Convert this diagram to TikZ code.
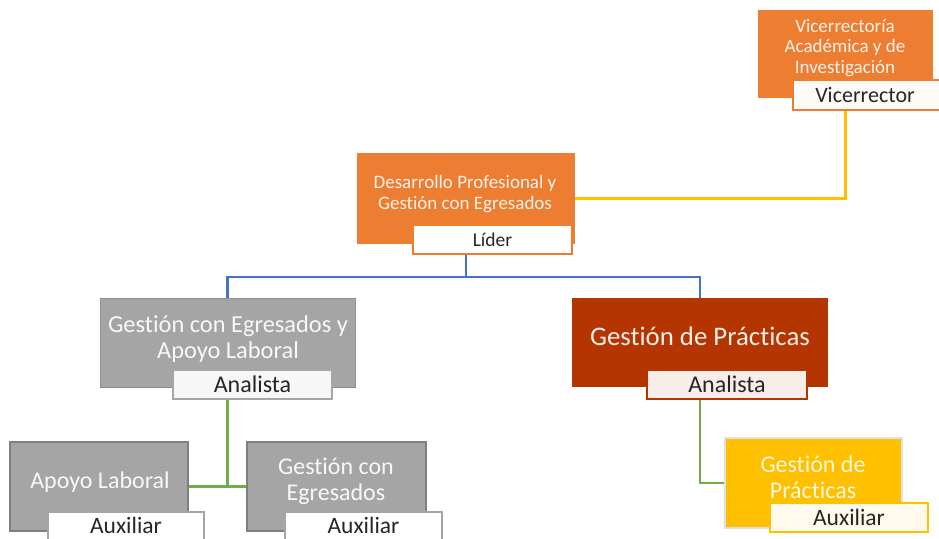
\documentclass[tikz,border=0pt]{standalone}
\usepackage{fontspec}
\setmainfont{Carlito}[Ligatures=NoCommon]
\definecolor{corange}{HTML}{ED7D31}
\definecolor{cred}{HTML}{B53500}
\definecolor{cgray}{HTML}{A5A5A5}
\definecolor{cgrayline}{HTML}{7F7F7F}
\definecolor{cyellow}{HTML}{FFC000}
\definecolor{cblue}{HTML}{4472C4}
\definecolor{cgreen}{HTML}{70AD47}
\definecolor{ctext}{HTML}{262626}
\begin{document}
\begin{tikzpicture}[x=1pt,y=-1pt,
  box/.style={rectangle, inner sep=0pt, minimum width=#1},
  tag/.style={rectangle, inner sep=0pt, minimum height=29pt, minimum width=#1, text=ctext},
  btext/.style={align=center, inner sep=0pt},
  conn/.style={line width=2.2pt}]
\clip (0,0) rectangle (939,538);
\fill[white] (0,0) rectangle (939,538);

% top box
\node[box=175pt, minimum height=88pt, fill=corange] (vbox) at (845.5,54) {};
\node[btext, text=white!90!corange, font=\fontsize{19}{20.5}\selectfont] (vtxt) at (845,48) {Vicerrectoría\\Académica y de\\Investigación};
\node[tag=152pt, minimum height=30pt, draw=corange, line width=1.5pt, fill=corange!4, font=\fontsize{22}{24}\selectfont] (vlab) at (869,95) {\hspace*{-4pt}Vicerrector\hspace*{4pt}};

% leader box
\node[box=218pt, minimum height=91pt, fill=corange] (dbox) at (466,198.5) {};
\node[btext, text=white!90!corange, font=\fontsize{19}{20.5}\selectfont] (dtxt) at (465,194) {Desarrollo Profesional y\\Gestión con Egresados};
\node[tag=159pt, draw=corange, line width=1.5pt, fill=white, font=\fontsize{19.5}{22}\selectfont] (dlab) at (492.5,239.5) {Líder};

% gray box level 2
\node[box=255pt, minimum height=89pt, fill=cgray, draw=cgrayline!60!cgray, line width=1pt] (gbox) at (227.5,342.5) {};
\node[btext, text=white!92!cgray, font=\fontsize{24.4}{25.5}\selectfont] (gtxt) at (228,339) {Gestión con Egresados y\\Apoyo Laboral};
\node[tag=159pt, draw=cgray, line width=1.5pt, fill=black!3, font=\fontsize{24}{26}\selectfont] (glab) at (252.5,384.5) {Analista};

% red box level 2
\node[box=256pt, minimum height=89pt, fill=cred] (rbox) at (700,342.5) {};
\node[btext, text=white!92!cred, font=\fontsize{26.8}{28}\selectfont] (rtxt) at (700,336) {Gestión de Prácticas};
\node[tag=160pt, draw=cred, line width=1.5pt, fill=cred!9, font=\fontsize{24}{26}\selectfont] (rlab) at (727,384.5) {Analista};

% gray box level 3 left
\node[box=178pt, minimum height=89pt, fill=cgray, draw=cgrayline, line width=1.5pt] (abox) at (99,486.5) {};
\node[btext, text=white!92!cgray, font=\fontsize{24}{26}\selectfont] (atxt) at (100,482) {Apoyo Laboral};
\node[tag=156pt, draw=cgray, line width=1.5pt, fill=white, font=\fontsize{23.5}{26}\selectfont] (alab) at (126,526.5) {\raisebox{1.5pt}{Auxiliar}};

% gray box level 3 right
\node[box=179pt, minimum height=89pt, fill=cgray, draw=cgrayline, line width=1.5pt] (ebox) at (336.5,486.5) {};
\node[btext, text=white!92!cgray, font=\fontsize{24}{26}\selectfont] (etxt) at (336,481) {Gestión con\\Egresados};
\node[tag=157pt, draw=cgray, line width=1.5pt, fill=white, font=\fontsize{23.5}{26}\selectfont] (elab) at (363.5,526.5) {\raisebox{1.5pt}{Auxiliar}};

% yellow box
\node[box=177pt, minimum height=90pt, fill=cyellow, draw=black!12, line width=2pt] (ybox) at (813.5,483) {};
\node[btext, text=white!88!cyellow, font=\fontsize{24}{26}\selectfont] (ytxt) at (813,477) {Gestión de\\Prácticas};
\node[tag=158pt, draw=cyellow, line width=2pt, fill=cyellow!8, font=\fontsize{23.5}{26}\selectfont] (ylab) at (849,517.5) {Auxiliar};

% connectors
\draw[conn, draw=cyellow] (vbox.center |- vlab.south) |- (dbox.east);
\draw[conn, draw=cblue] (dbox.center |- dlab.south) -- ++(0,22) coordinate (bj) -| (gbox.north);
\draw[conn, draw=cblue] (bj) -| (rbox.north);
\draw[conn, draw=cgreen] (gbox.center |- glab.south) -- (gbox.center |- abox.east) coordinate (gj);
\draw[conn, draw=cgreen] (abox.east) -- (ebox.west);
\draw[conn, draw=cgreen] (rbox.center |- rlab.south) |- (ybox.west);
\end{tikzpicture}
\end{document}
